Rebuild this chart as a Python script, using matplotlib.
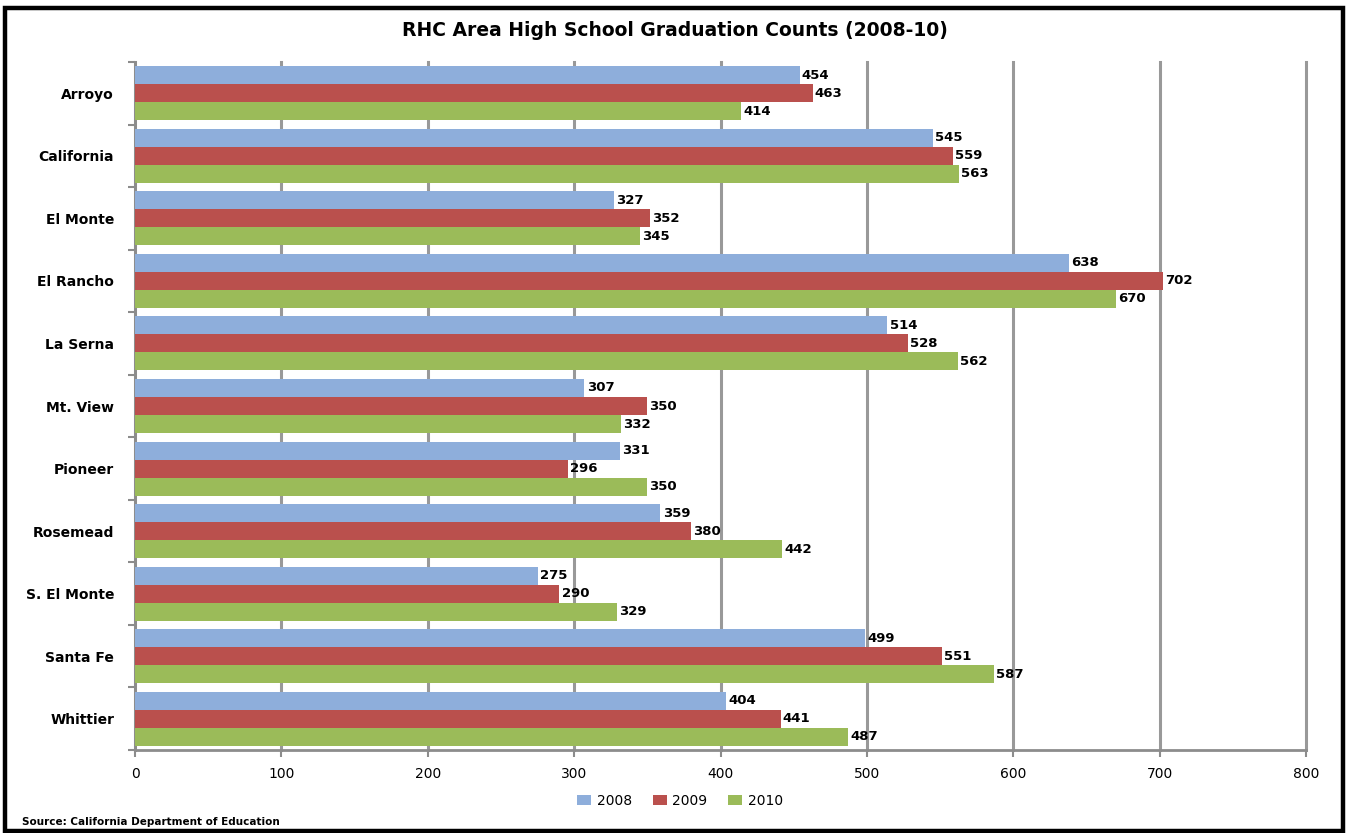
import matplotlib
matplotlib.use("Agg")
import matplotlib.pyplot as plt
from matplotlib.patches import Rectangle, Patch
import numpy as np

schools = ["Arroyo", "California", "El Monte", "El Rancho", "La Serna", "Mt. View",
           "Pioneer", "Rosemead", "S. El Monte", "Santa Fe", "Whittier"]
years = ["2008", "2009", "2010"]
grad_2008 = [454, 545, 327, 638, 514, 307, 331, 359, 275, 499, 404]
grad_2009 = [463, 559, 352, 702, 528, 350, 296, 380, 290, 551, 441]
grad_2010 = [414, 563, 345, 670, 562, 332, 350, 442, 329, 587, 487]
x_ticks = [0, 100, 200, 300, 400, 500, 600, 700, 800]

colors = ["#8EAEDB", "#BA504D", "#9BBB59"]
series = [grad_2008, grad_2009, grad_2010]

W, H = 1348, 833
fig = plt.figure(figsize=(W / 100, H / 100), dpi=100)
fig.patch.set_facecolor("white")
ax = fig.add_axes([135 / W, 1 - 750 / H, (1306 - 135) / W, (750 - 62) / H])

font = "DejaVu Sans"
n = len(schools)
y = np.arange(n)
bar_h = 0.288
offsets = [-bar_h, 0, bar_h]

for vals, col, off in zip(series, colors, offsets):
    ax.barh(y + off, vals, height=bar_h, color=col, zorder=3, linewidth=0)
    for yi, v in zip(y, vals):
        ax.text(v + 1.5, yi + off, str(v), va="center", ha="left",
                fontsize=9.5, fontweight="bold", family=font, zorder=4)

ax.set_xlim(0, 800)
ax.set_ylim(n - 0.5, -0.5)
ax.set_xticks(x_ticks)
ax.set_xticklabels([str(t) for t in x_ticks], fontsize=10, family=font)
ax.set_yticks(y)
ax.set_yticklabels(schools, fontsize=10, fontweight="bold", family=font)
ax.set_yticks(np.arange(n + 1) - 0.5, minor=True)
ax.tick_params(axis="y", which="major", length=0, pad=15)
ax.tick_params(axis="y", which="minor", length=5, width=1.5, color="#8C8C8C", direction="out")
ax.tick_params(axis="x", length=5, width=1.5, color="#8C8C8C", direction="out", pad=7)

ax.grid(axis="x", color="#999999", linewidth=2.2, zorder=0)
for gl in ax.get_xgridlines():
    gl.set_clip_on(False)
for side in ["top", "right"]:
    ax.spines[side].set_visible(False)
for side in ["left", "bottom"]:
    ax.spines[side].set_color("#8C8C8C")
    ax.spines[side].set_linewidth(2)
ax.set_axisbelow(True)

fig.text(675 / W, 1 - 30 / H, "RHC Area High School Graduation Counts (2008-10)",
         ha="center", va="center", fontsize=13.5, fontweight="bold", family=font)

handles = [Patch(facecolor=c, edgecolor="none") for c in colors]
fig.legend(handles, years, loc="center", bbox_to_anchor=(680 / W, 1 - 801 / H),
           ncol=3, frameon=False, handlelength=1.0, handleheight=0.8,
           handletextpad=0.4, columnspacing=1.5, prop={"family": font, "size": 10})

fig.text(22 / W, 1 - 822 / H, "Source: California Department of Education",
         ha="left", va="center", fontsize=7.5, fontweight="bold", family=font)

fig.patches.append(Rectangle((5 / W, 2 / H), (1343 - 5) / W, (828 - 5) / H,
                             transform=fig.transFigure, fill=False,
                             edgecolor="black", linewidth=3.2, zorder=10))

fig.savefig("out.png", dpi=100, facecolor="white")
